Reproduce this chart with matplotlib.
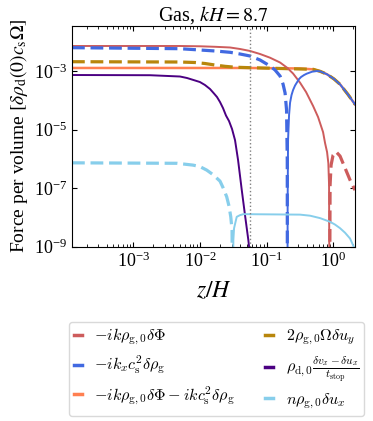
import matplotlib
matplotlib.use("Agg")
import matplotlib.pyplot as plt
from matplotlib.lines import Line2D
from matplotlib.font_manager import FontProperties

plt.rcParams['font.family'] = 'serif'
plt.rcParams['font.serif'] = ['Liberation Serif', 'DejaVu Serif']
plt.rcParams['mathtext.fontset'] = 'stix'

# ---------------- data ----------------
title = r"Gas, $kH = 8.7$"
xlabel = r"$z/H$"
ylabel = r"Force per volume $[\delta\rho_{\rm d}(0)c_{\rm s}\Omega]$"
z_marker = 0.0564

# -ik rho Phi : positive part (solid) then negative part (dashed)
red_pos_z = [1.21e-4, 5.0e-3, 0.01002, 0.01683, 0.02827, 0.0399, 0.0564, 0.0796, 0.1124, 0.1589,
             0.2023, 0.2489, 0.317, 0.390, 0.497, 0.590, 0.701, 0.751, 0.805, 0.841, 0.862, 0.877]
red_pos_v = [7.35e-3, 7.35e-3, 7.18e-3, 6.9e-3, 6.53e-3, 5.8e-3, 4.96e-3, 3.91e-3, 2.92e-3, 2.0e-3,
             1.33e-3, 8.4e-4, 4.07e-4, 1.95e-4, 6.5e-5, 2.72e-5, 8.3e-6, 3.5e-6, 1.72e-6, 7.2e-7, 1.28e-7, 1e-12]
red_neg_z = [0.877, 0.893, 0.924, 0.99, 1.097, 1.259, 1.497, 1.78, 2.11]
red_neg_v = [1e-12, 1.28e-7, 6.2e-7, 1.36e-6, 1.77e-6, 1.26e-6, 4.9e-7, 1.9e-7, 8.6e-8]

# -ik_x cs^2 drho : negative part (dashed) then positive (solid)
blue_neg_z = [1.21e-4, 5.0e-3, 0.01002, 0.01683, 0.02827, 0.0399, 0.0564, 0.0796, 0.1124, 0.1336,
              0.1589, 0.176, 0.189, 0.1988, 0.2037, 0.2045]
blue_neg_v = [6.43e-3, 5.94e-3, 5.36e-3, 4.96e-3, 4.47e-3, 3.91e-3, 3.34e-3, 2.44e-3, 1.52e-3, 1.11e-3,
              6.9e-4, 3.67e-4, 1.81e-4, 4.73e-5, 9.1e-7, 1e-12]
blue_pos_z = [0.2045, 0.2065, 0.2094, 0.2168, 0.2243, 0.236, 0.249, 0.2666, 0.2827, 0.306, 0.328,
              0.364, 0.399, 0.480, 0.564, 0.632, 0.805, 1.024, 1.259, 1.66, 2.11]
blue_pos_v = [1e-12, 3.9e-8, 4.5e-6, 3.18e-5, 8.4e-5, 1.54e-4, 2.29e-4, 3.27e-4, 4.07e-4, 5.45e-4, 6.38e-4,
              7.47e-4, 8.3e-4, 9.7e-4, 1.02e-3, 1.0e-3, 7.9e-4, 5.45e-4, 3.59e-4, 1.6e-4, 7.4e-5]

# sum of the two (solid)
orange_z = [1.21e-4, 0.0564, 0.1589, 0.317, 0.497, 0.632, 0.805, 1.024, 1.259, 1.66, 2.11]
orange_v = [1.30e-3, 1.30e-3, 1.27e-3, 1.25e-3, 1.17e-3, 1.0e-3, 7.9e-4, 5.45e-4, 3.59e-4, 1.6e-4, 7.4e-5]

# 2 rho Omega du_y (negative, dashed)
gold_z = [1.21e-4, 5.0e-3, 8.45e-3, 0.0119, 0.01683, 0.0238, 0.0336, 0.0564, 0.1589, 0.497,
          0.632, 0.805, 1.024, 1.259, 1.66, 2.11]
gold_v = [2.13e-3, 2.08e-3, 2.0e-3, 1.85e-3, 1.64e-3, 1.48e-3, 1.38e-3, 1.33e-3, 1.25e-3, 1.17e-3,
          1.0e-3, 7.9e-4, 5.45e-4, 3.59e-4, 1.6e-4, 7.4e-5]

# drag term (positive, solid)
purple_z = [1.21e-4, 1.79e-3, 5.03e-3, 6.41e-3, 8.45e-3, 0.0100, 0.0119, 0.01417, 0.01626, 0.01803,
            0.0200, 0.0222, 0.0246, 0.0273, 0.0303, 0.0336, 0.0373, 0.0424, 0.0474, 0.0532, 0.0564]
purple_v = [7.47e-4, 7.35e-4, 6.64e-4, 5.9e-4, 4.85e-4, 4.3e-4, 3.4e-4, 2.48e-4, 1.74e-4, 1.32e-4,
            8.9e-5, 5.5e-5, 3.06e-5, 1.99e-5, 1.06e-5, 4.4e-6, 9.2e-7, 8.6e-8, 1.2e-8, 1.67e-9, 5e-10]

# n rho du_x : negative (dashed) then positive (solid)
sky_neg_z = [1.21e-4, 4.54e-3, 7.88e-3, 0.0100, 0.01265, 0.0157, 0.0200, 0.0222, 0.0252, 0.0273,
             0.0290, 0.0303, 0.0311]
sky_neg_v = [7.4e-7, 7.13e-7, 6.18e-7, 5.5e-7, 4.17e-7, 2.92e-7, 1.75e-7, 1.05e-7, 5.1e-8, 2.44e-8,
             1.05e-8, 3.7e-9, 1e-12]
sky_pos_z = [0.0311, 0.0317, 0.0325, 0.0356, 0.0399, 0.0448, 0.317, 0.4477, 0.632, 0.893, 1.06,
             1.259, 1.497, 1.78, 2.11]
sky_pos_v = [1e-12, 1.67e-9, 4.3e-9, 1.05e-8, 1.2e-8, 1.3e-8, 1.25e-8, 1.15e-8, 9.5e-9, 7.1e-9, 5.7e-9,
             4.3e-9, 3.0e-9, 1.9e-9, 8e-10]

legend_labels = [
    r"$-ik\rho_{\rm g,0}\delta\Phi$",
    r"$-ik_xc_{\rm s}^2\delta\rho_{\rm g}$",
    r"$-ik\rho_{\rm g,0}\delta\Phi-ikc_{\rm s}^2\delta\rho_{\rm g}$",
    r"$2\rho_{\rm g,0}\Omega\delta u_y$",
    r"$\rho_{\rm d,0}\frac{\delta v_x-\delta u_x}{t_{\rm stop}}$",
    r"$n\rho_{\rm g,0}\delta u_x$",
]
colors = ['#CD5C5C', '#4169E1', '#FF7F50', '#B8860B', '#4B0082', '#87CEEB']

xlim = (1.21e-4, 2.11)
ylim = (1e-9, 10 ** -1.45)
yticks = [1e-9, 1e-7, 1e-5, 1e-3]

# ---------------- plot ----------------
fig = plt.figure(figsize=(3.73, 4.21), dpi=100)
ax = fig.add_axes([72 / 373, 1 - 246.7 / 421, (355 - 72) / 373, (246.7 - 26) / 421])

lw_s = 1.4
lw_d = 2.3
dash = (4.0, 1.8)

ax.loglog(orange_z, orange_v, color=colors[2], lw=lw_s + 0.4)
ax.loglog(gold_z, gold_v, color=colors[3], lw=lw_d, dashes=dash)
ax.loglog(red_pos_z, red_pos_v, color=colors[0], lw=lw_s)
ax.loglog(red_neg_z, red_neg_v, color=colors[0], lw=lw_d, dashes=dash)
ax.loglog(blue_pos_z, blue_pos_v, color=colors[1], lw=lw_s)
ax.loglog(blue_neg_z, blue_neg_v, color=colors[1], lw=lw_d, dashes=dash)
ax.loglog(purple_z, purple_v, color=colors[4], lw=lw_s)
ax.loglog(sky_pos_z, sky_pos_v, color=colors[5], lw=lw_s)
ax.loglog(sky_neg_z, sky_neg_v, color=colors[5], lw=lw_d, dashes=dash)

ax.axvline(z_marker, color='gray', ls=':', lw=1.0)

ax.set_xlim(*xlim)
ax.set_ylim(*ylim)
ax.set_yticks(yticks)
ax.yaxis.set_minor_locator(matplotlib.ticker.NullLocator())
ax.tick_params(which='both', direction='in', top=True, right=True, labelsize=13)
ax.tick_params(which='major', length=3.5)
ax.tick_params(which='minor', length=2)

ax.set_title(title, fontsize=14.5, pad=3)
ax.set_xlabel(xlabel, fontsize=17, labelpad=7)
ax.set_ylabel(ylabel, fontsize=14, labelpad=3)

handles = [Line2D([], [], color=c, lw=2.5) for c in colors]
leg_font = FontProperties(size=11.6, math_fontfamily='cm')
fig.legend(handles, legend_labels,
           ncol=2, loc='upper center', bbox_to_anchor=(216.5 / 373, 1 - 322 / 421),
           borderaxespad=0.0,
           prop=leg_font, handlelength=0.5, handletextpad=0.75, columnspacing=1.9,
           labelspacing=0.42, framealpha=1.0, edgecolor='0.85', borderpad=0.32)

fig.savefig("out.png", dpi=100)
